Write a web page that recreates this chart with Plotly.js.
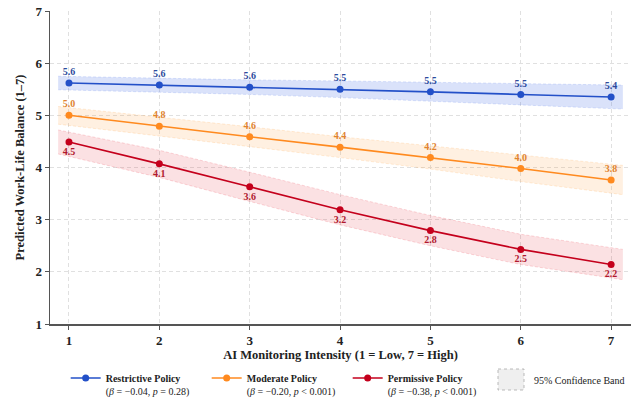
<!DOCTYPE html>
<html>
<head>
<meta charset="utf-8">
<script src="https://cdn.plot.ly/plotly-3.0.1.min.js"></script>
<style>html,body{margin:0;padding:0;background:#fff;}#chart{width:631px;height:399px;}</style>
</head>
<body>
<div id="chart"></div>
<script>
// ---- data ----
const intensity = [1, 2, 3, 4, 5, 6, 7];
const bandX = [0.88, 2, 3, 4, 5, 6, 7.13];

const restrictive = [5.62, 5.58, 5.54, 5.50, 5.45, 5.40, 5.35];
const restrictiveLabels = ["5.6", "5.6", "5.6", "5.5", "5.5", "5.5", "5.4"];
const restrictiveHalfCI = [0.13, 0.13, 0.14, 0.16, 0.18, 0.20, 0.23];

const moderate = [5.00, 4.79, 4.59, 4.39, 4.19, 3.98, 3.76];
const moderateLabels = ["5.0", "4.8", "4.6", "4.4", "4.2", "4.0", "3.8"];
const moderateHalfCI = [0.17, 0.18, 0.19, 0.20, 0.22, 0.25, 0.28];

const permissive = [4.49, 4.07, 3.63, 3.19, 2.79, 2.43, 2.14];
const permissiveLabels = ["4.5", "4.1", "3.6", "3.2", "2.8", "2.5", "2.2"];
const permissiveHalfCI = [0.23, 0.26, 0.28, 0.29, 0.29, 0.29, 0.29];

const seriesNames = [
  "<b>Restrictive Policy</b><br>(<i>β</i> = −0.04, <i>p</i> = 0.28)",
  "<b>Moderate Policy</b><br>(<i>β</i> = −0.20, <i>p</i> < 0.001)",
  "<b>Permissive Policy</b><br>(<i>β</i> = −0.38, <i>p</i> < 0.001)"
];
const bandLegendText = "95% Confidence Band";
const xTitle = "AI Monitoring Intensity (1 = Low, 7 = High)";
const yTitle = "Predicted Work-Life Balance (1–7)";

// ---- styling ----
const FONT = "Liberation Serif, Times New Roman, serif";
const series = [
  {y: restrictive, lab: restrictiveLabels, ci: restrictiveHalfCI, name: seriesNames[0],
   line: "#2350c8", text: "#2d4a9c", fill: "rgba(70,110,230,0.20)", edge: "rgba(70,110,230,0.22)", pos: "top center"},
  {y: moderate, lab: moderateLabels, ci: moderateHalfCI, name: seriesNames[1],
   line: "#ff8a1f", text: "#e0832f", fill: "rgba(255,150,40,0.14)", edge: "rgba(255,150,40,0.22)", pos: "top center"},
  {y: permissive, lab: permissiveLabels, ci: permissiveHalfCI, name: seriesNames[2],
   line: "#c4001c", text: "#b0182e", fill: "rgba(230,40,60,0.14)", edge: "rgba(230,40,60,0.22)", pos: "bottom center"}
];

const traces = [];
series.forEach(s => {
  const upper = s.y.map((v, i) => v + s.ci[i]);
  const lower = s.y.map((v, i) => v - s.ci[i]);
  traces.push({x: bandX, y: lower, mode: "lines", line: {color: s.edge, width: 0.8, dash: "3px,2px"},
               showlegend: false, hoverinfo: "skip"});
  traces.push({x: bandX, y: upper, mode: "lines", fill: "tonexty", fillcolor: s.fill,
               line: {color: s.edge, width: 0.8, dash: "3px,2px"}, showlegend: false, hoverinfo: "skip"});
});
series.forEach(s => {
  traces.push({x: intensity, y: s.y, mode: "lines+markers+text", name: s.name,
               text: s.lab, textposition: s.pos,
               textfont: {family: FONT, size: 10, color: s.text, weight: "bold"},
               line: {color: s.line, width: 1.6}, marker: {color: s.line, size: 7}});
});

const layout = {
  width: 631, height: 399,
  margin: {l: 50, r: 0, t: 11, b: 75, autoexpand: false},
  paper_bgcolor: "#fff", plot_bgcolor: "#fff",
  font: {family: FONT, color: "#222"},
  xaxis: {
    range: [0.79, 7.22], tickmode: "array", tickvals: intensity,
    ticks: "outside", ticklen: 4, tickcolor: "#555",
    showline: true, linecolor: "#555", linewidth: 1.5,
    showgrid: true, gridcolor: "#e0e0e0", griddash: "4px,3px", gridwidth: 1,
    zeroline: false, automargin: false,
    tickfont: {family: FONT, size: 13, color: "#222", weight: "bold"},
    title: {text: "<b>" + xTitle + "</b>", font: {family: FONT, size: 12.5, color: "#222"}, standoff: 3}
  },
  yaxis: {
    range: [1, 7], tickvals: [1, 2, 3, 4, 5, 6, 7],
    ticks: "outside", ticklen: 4, tickcolor: "#555",
    showline: true, linecolor: "#555", linewidth: 1.5,
    showgrid: true, gridcolor: "#e0e0e0", griddash: "4px,3px", gridwidth: 1,
    zeroline: false, automargin: false,
    tickfont: {family: FONT, size: 13, color: "#222", weight: "bold"},
    title: {text: "<b>" + yTitle + "</b>", font: {family: FONT, size: 12.5, color: "#222"}, standoff: 8}
  },
  legend: {
    orientation: "h", x: 0.027, xanchor: "left", y: -0.131, yanchor: "top",
    traceorder: "normal",
    font: {family: FONT, size: 10, color: "#222"},
    valign: "top", entrywidth: 96, entrywidthmode: "pixels",
    bgcolor: "rgba(0,0,0,0)"
  },
  shapes: [{
    type: "rect", xref: "paper", yref: "paper",
    x0: (498 - 50) / 581, x1: (524 - 50) / 581,
    y0: (324 - 369) / 313, y1: (324 - 390) / 313,
    fillcolor: "rgba(210,210,210,0.35)", line: {color: "#aaa", width: 0.8, dash: "dot"}
  }],
  annotations: [{
    xref: "paper", yref: "paper", x: (532 - 50) / 581, y: (324 - 380) / 313,
    xanchor: "left", yanchor: "middle", showarrow: false,
    text: bandLegendText, font: {family: FONT, size: 10, color: "#222"}
  }]
};

Plotly.newPlot("chart", traces, layout, {displayModeBar: false, staticPlot: true});
</script>
</body>
</html>
